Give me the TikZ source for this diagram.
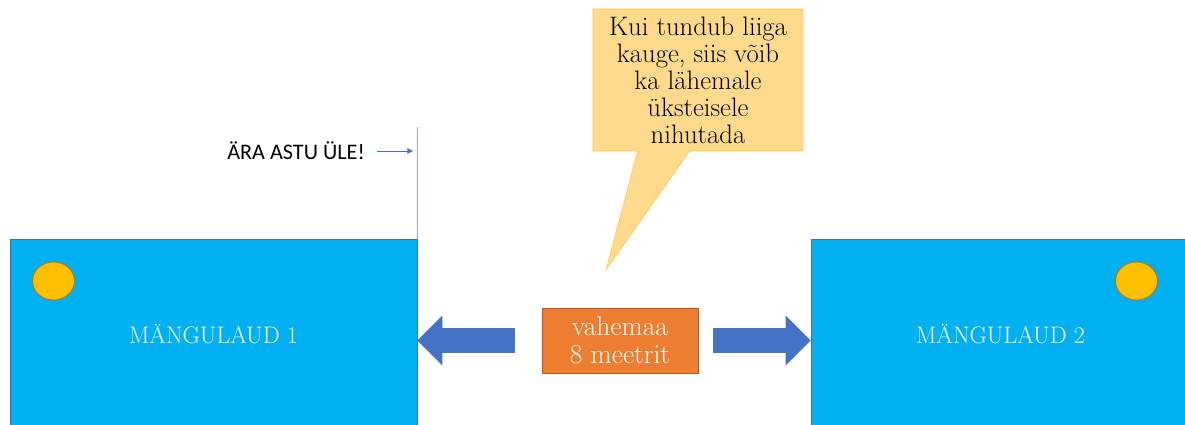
\documentclass[tikz,border=0pt]{standalone}
\usepackage{fontspec}
\newfontfamily\warnfont{Carlito}
\usetikzlibrary{arrows.meta,calc,shapes.geometric,shapes.callouts}
\definecolor{tableblue}{HTML}{00B0F0}
\definecolor{tableedge}{HTML}{41719C}
\definecolor{arrowblue}{HTML}{4472C4}
\definecolor{linefaint}{HTML}{8FAADC}
\definecolor{distorange}{HTML}{ED7D31}
\definecolor{distedge}{HTML}{C05A1C}
\definecolor{coinfill}{HTML}{FFC000}
\definecolor{coinedge}{HTML}{C0700F}
\definecolor{notefill}{HTML}{FFD98C}
\definecolor{noteedge}{HTML}{FFC94D}

\begin{document}
\begin{tikzpicture}[x=0.025cm,y=-0.025cm,
	gametable/.style={draw=tableedge,line width=0.5pt,fill=tableblue,text=white,
		font=\fontsize{17}{20}\selectfont,inner sep=0,minimum height=4.775cm},
	coin/.style={ellipse,draw=coinedge,fill=coinfill,line width=0.6pt,
		minimum width=1.05cm,minimum height=0.95cm,inner sep=0},
	distbox/.style={draw=distedge,fill=distorange,text=white,align=center,
		minimum width=3.9cm,minimum height=1.625cm,inner sep=0,
		font=\fontsize{19.5}{19.9}\selectfont},
	notebox/.style={rectangle callout,draw=noteedge,fill=notefill,align=center,
		minimum width=5.25cm,minimum height=3.55cm,callout pointer width=1.3cm,
		inner sep=0,font=\fontsize{19}{19.2}\selectfont},
	blockarrow/.style={arrowblue,line width=0.625cm,
		-{Triangle[length=0.625cm,width=1.25cm,line width=0pt]}},
	smallarrow/.style={arrowblue,line width=0.6pt,-{Triangle[length=4pt,width=4pt]}},
	stopline/.style={linefaint,line width=0.7pt}]
	\useasboundingbox (0,0) rectangle (1185,424);

	% the two tables
	\node[gametable,minimum width=10.175cm] (table1) at (213.5,334.5) {MÄNGULAUD 1};
	\node[gametable,minimum width=9.475cm] (table2) at (1000.5,334.5) {MÄNGULAUD 2};
	\node[coin] (coin1) at (53.5,281) {};
	\node[coin] (coin2) at (1136.5,281) {};

	% distance between them
	\node[distbox] (dist) at (620,340.5) {vahemaa\\8 meetrit};
	\draw[blockarrow] ($(dist.west)+(-27,0)$) -- (table1.east |- dist.west);
	\draw[blockarrow] ($(dist.east)+(15,0)$) -- (table2.west |- dist.east);

	\node[notebox,callout absolute pointer={(606,270)}] (note) at (698,80)
		{Kui tundub liiga\\kauge, siis võib\\ka lähemale\\üksteisele\\nihutada};

	% line not to step over
	\coordinate (stoptop) at (417,127);
	\draw[stopline] (stoptop) -- (stoptop |- table1.north);
	\node[font=\warnfont\fontsize{15.8}{18}\selectfont,inner sep=0] (warn) at (296,151) {ÄRA ASTU ÜLE!};
	\draw[smallarrow,shorten <=0.3cm,shorten >=0.1cm] (warn.east) -- (warn.east -| stoptop);
\end{tikzpicture}
\end{document}
